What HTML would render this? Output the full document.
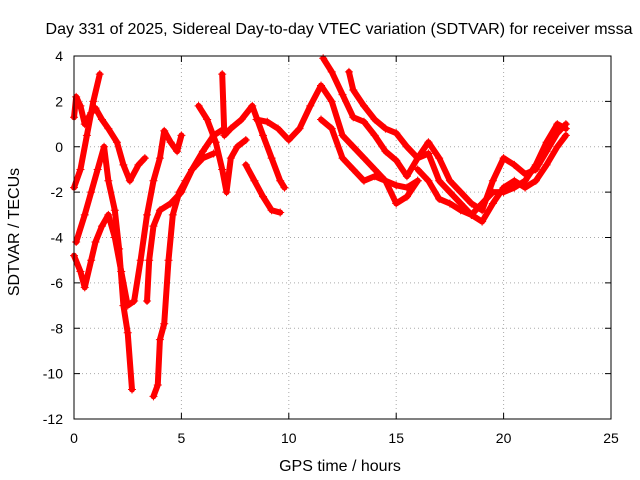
<!DOCTYPE html>
<html><head><meta charset="utf-8"><style>
body{margin:0;background:#fff}
svg{display:block;font-family:"Liberation Sans",sans-serif}
</style></head><body>
<svg id="c" width="640" height="480">
<rect width="640" height="480" fill="#fff"/>
<text x="339" y="34" font-size="16" text-anchor="middle" textLength="587" lengthAdjust="spacingAndGlyphs">Day 331 of 2025, Sidereal Day-to-day VTEC variation (SDTVAR) for receiver mssa</text>
<text x="340" y="471" font-size="16" text-anchor="middle">GPS time / hours</text>
<text transform="translate(19,232) rotate(-90)" font-size="16" text-anchor="middle">SDTVAR / TECUs</text>
<g id="grid"></g><g id="ticks"></g><g id="series"></g>
<rect x="74" y="56" width="537" height="363" fill="none" stroke="#000"/>
</svg>
<script>
const xTicks=[0,5,10,15,20,25];
const yTicks=[4,2,0,-2,-4,-6,-8,-10,-12];
const s1=[[0,1.3],[0.1,2.2],[0.3,1.8],[0.5,1.0],[0.8,1.5],[1.0,1.7],[1.3,1.2],[1.6,0.8],[2.0,0.2],[2.3,-0.8],[2.6,-1.5],[3.0,-0.8],[3.3,-0.5]];
const s2=[[0,-1.8],[0.3,-1],[0.6,0.5],[0.9,2],[1.2,3.2]];
const s3=[[0,-4.8],[0.3,-5.5],[0.5,-6.2],[0.8,-5],[1,-4.2],[1.3,-3.5],[1.6,-3],[1.9,-4],[2.2,-5.5],[2.5,-7],[2.8,-6.8],[3.1,-5],[3.4,-3],[3.7,-1.5],[4.0,-0.5],[4.2,0.7],[4.5,0.2],[4.8,-0.2],[5,0.5]];
const s4=[[0.1,-4.2],[0.5,-3],[0.8,-2],[1.1,-1],[1.4,0],[1.6,-1.5],[1.9,-2.8],[2.1,-4.5],[2.3,-7],[2.5,-8.2],[2.7,-10.7]];
const s5=[[3.7,-11],[3.9,-10.5],[4.0,-8.5],[4.2,-7.8],[4.4,-5],[4.6,-3],[4.9,-2],[5.2,-1.5],[5.5,-1],[6,-0.5],[6.5,-0.3]];
const s6=[[3.4,-6.8],[3.5,-5],[3.7,-3.5],[4,-2.8],[4.5,-2.5],[5,-2],[5.5,-1],[6,-0.2],[6.5,0.5],[7,0.8]];
const s7=[[5.8,1.8],[6.2,1.2],[6.6,0.2],[6.9,-1],[7.1,-2],[7.3,-0.5],[7.6,0],[8,0.3]];
const s8=[[6.9,3.2],[7,0.5],[7.3,0.8],[7.8,1.2],[8.3,1.8],[8.8,0.5],[9.2,-0.5],[9.6,-1.5],[9.8,-1.8]];
const s9=[[8,-0.8],[8.4,-1.5],[8.8,-2.2],[9.2,-2.8],[9.6,-2.9]];
const s10=[[8.5,1.2],[9,1.1],[9.5,0.8],[10,0.3],[10.5,0.8],[11,1.8],[11.5,2.7],[12,2],[12.5,0.5],[13,0],[13.5,-0.5],[14,-1],[14.5,-1.5],[15,-2.5],[15.5,-2.2],[16,-1.5]];
const s11=[[11.6,3.9],[12,3.3],[12.5,2.3],[13,1.3],[13.5,1.1],[14,0.5],[14.5,-0.2],[15,-0.6],[15.5,-1.3],[16,-0.5],[16.5,-0.3],[17,-1.5],[17.5,-2],[18,-2.5],[18.5,-3],[19,-3.3],[19.5,-2.5],[20,-1.8],[20.5,-1.5],[21,-1.8],[21.5,-1.5],[22,-0.8],[22.5,0],[22.9,0.5]];
const s12=[[11.5,1.2],[12,0.8],[12.5,-0.5],[13,-1],[13.5,-1.5],[14,-1.3],[14.5,-1.5],[15,-1.7],[15.5,-1.8],[16,-1.5]];
const s13=[[12.8,3.3],[13,2.5],[13.5,1.8],[14,1.2],[14.5,0.8],[15,0.6],[15.5,0],[16,-0.5],[16.5,0.2],[17,-0.5],[17.5,-1.5],[18,-2],[18.5,-2.5],[19,-2.8],[19.5,-1.5],[20,-0.5],[20.5,-0.8],[21,-1.2],[21.5,-1.0],[22,-0.2],[22.5,0.6],[22.9,1]];
const s14=[[16,-1],[16.5,-1.5],[17,-2.3],[17.5,-2.5],[18,-2.8],[18.5,-3],[19,-2.5],[19.5,-2],[20,-2],[20.5,-1.8],[21,-1.5],[21.5,-0.8],[22,0.2],[22.5,1],[22.9,0.8]];
const allSeries=[s1,s2,s3,s4,s5,s6,s7,s8,s9,s10,s11,s12,s13,s14];

const X=v=>74+v*(537/25);
const Y=v=>56+(4-v)*(363/16);
const NS="http://www.w3.org/2000/svg";
const mk=(t,a,p)=>{const e=document.createElementNS(NS,t);for(const k in a)e.setAttribute(k,a[k]);p.appendChild(e);return e;};
const grid=document.getElementById('grid'),ticks=document.getElementById('ticks'),ser=document.getElementById('series');
xTicks.forEach(t=>{
  if(t>0&&t<25){const g=mk('line',{x1:X(t),x2:X(t),y1:56,y2:419,stroke:'#aaa','stroke-dasharray':'1,3'},grid);
  
  }
  mk('line',{x1:X(t),x2:X(t),y1:419,y2:413,stroke:'#000'},ticks);
  mk('line',{x1:X(t),x2:X(t),y1:56,y2:62,stroke:'#000'},ticks);
  const l=mk('text',{x:X(t),y:443,'font-size':14,'text-anchor':'middle'},ticks);l.textContent=t;
  
  
});
yTicks.forEach(t=>{
  if(t<4&&t>-12){const g=mk('line',{x1:74,x2:611,y1:Y(t),y2:Y(t),stroke:'#aaa','stroke-dasharray':'1,3'},grid);
  
  }
  mk('line',{x1:74,x2:80,y1:Y(t),y2:Y(t),stroke:'#000'},ticks);
  mk('line',{x1:611,x2:605,y1:Y(t),y2:Y(t),stroke:'#000'},ticks);
  const l=mk('text',{x:63,y:Y(t)+5,'font-size':14,'text-anchor':'end'},ticks);l.textContent=t;
  
  
});
allSeries.forEach((s,i)=>{
  const g=mk('g',{},ser);
  
  
  mk('polyline',{points:s.map(p=>X(p[0])+','+Y(p[1])).join(' '),fill:'none',stroke:'#f00','stroke-width':6,'stroke-linejoin':'round','stroke-linecap':'round'},g);
  s.forEach(p=>{const x=X(p[0]),y=Y(p[1]);
    mk('path',{d:`M${x-4},${y}H${x+4}M${x},${y-4}V${y+4}`,stroke:'#f00','stroke-width':1},g);});
});
</script>
</body></html>
